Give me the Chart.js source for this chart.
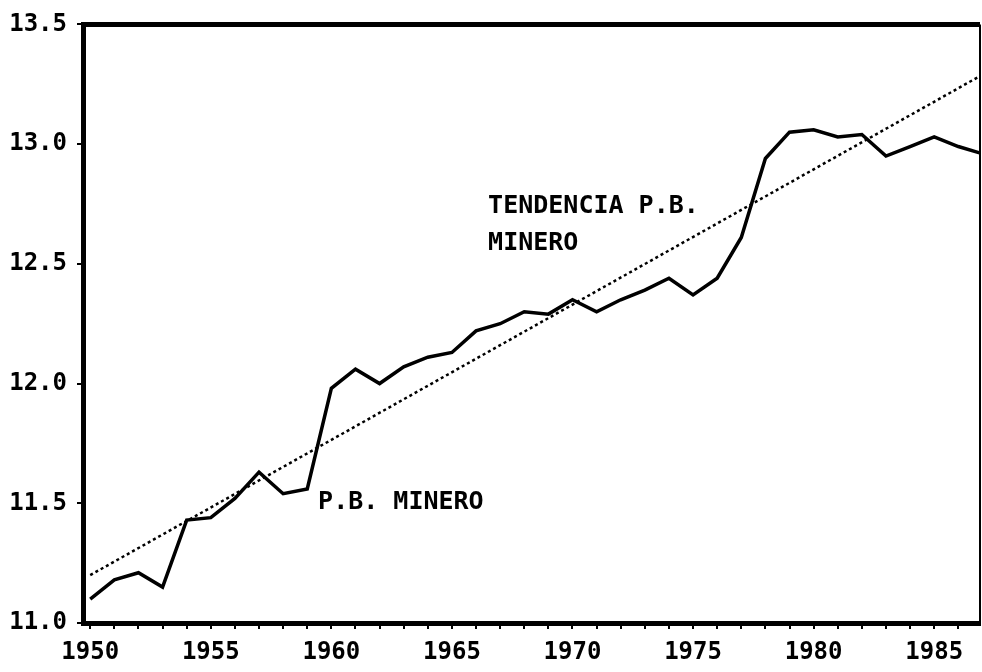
<!DOCTYPE html>
<html>
<head>
<meta charset="utf-8">
<script src="https://cdn.jsdelivr.net/npm/chart.js@4.4.1/dist/chart.umd.min.js"></script>
<style>
  html, body { margin: 0; padding: 0; background: #fff; }
  #wrap { width: 982px; height: 672px; }
</style>
</head>
<body>
<div id="wrap"><canvas id="pbChart" width="982" height="672"></canvas></div>
<script>
// ---------- Data ----------
const years = [1950, 1951, 1952, 1953, 1954, 1955, 1956, 1957, 1958, 1959,
               1960, 1961, 1962, 1963, 1964, 1965, 1966, 1967, 1968, 1969,
               1970, 1971, 1972, 1973, 1974, 1975, 1976, 1977, 1978, 1979,
               1980, 1981, 1982, 1983, 1984, 1985, 1986, 1987];
const pbMinero = [11.10, 11.18, 11.21, 11.15, 11.43, 11.44, 11.52, 11.63, 11.54, 11.56,
                  11.98, 12.06, 12.00, 12.07, 12.11, 12.13, 12.22, 12.25, 12.30, 12.29,
                  12.35, 12.30, 12.35, 12.39, 12.44, 12.37, 12.44, 12.61, 12.94, 13.05,
                  13.06, 13.03, 13.04, 12.95, 12.99, 13.03, 12.99, 12.96];
const trendYears = [1950, 1987];
const trendValues = [11.20, 13.29];

const yTicks = [11.0, 11.5, 12.0, 12.5, 13.0, 13.5];
const xTickYears = years.slice(0, 37);   // a tick every year inside the box
const xLabelYears = [1950, 1955, 1960, 1965, 1970, 1975, 1980, 1985];

const labelTrend = ['TENDENCIA P.B.', 'MINERO'];
const labelSeries = 'P.B. MINERO';

const FONT = '"DejaVu Sans Mono", monospace';

// ---------- Plugins ----------
// frame on top and right side of the plot box
const frameBox = {
    id: 'frameBox',
    afterDatasetsDraw(chart) {
        const { ctx, chartArea: a } = chart;
        ctx.save();
        ctx.strokeStyle = '#000';
        ctx.lineWidth = 5;
        ctx.beginPath();
        ctx.moveTo(a.left - 2, a.top);
        ctx.lineTo(a.right, a.top);
        ctx.stroke();
        ctx.lineWidth = 2;
        ctx.beginPath();
        ctx.moveTo(a.right, a.top);
        ctx.lineTo(a.right, a.bottom);
        ctx.stroke();
        ctx.restore();
    }
};

// text labels placed in data units
const textLabels = {
    id: 'textLabels',
    afterDatasetsDraw(chart) {
        const { ctx, scales: { x, y } } = chart;
        ctx.save();
        ctx.fillStyle = '#000';
        ctx.font = 'bold 25px ' + FONT;
        ctx.textBaseline = 'middle';
        ctx.textAlign = 'left';
        ctx.fillText(labelTrend[0], x.getPixelForValue(1966.5), y.getPixelForValue(12.74));
        ctx.fillText(labelTrend[1], x.getPixelForValue(1966.5), y.getPixelForValue(12.585));
        ctx.fillText(labelSeries, x.getPixelForValue(1959.45), y.getPixelForValue(11.505));
        ctx.restore();
    }
};

// ---------- Chart ----------
const ctx = document.getElementById('pbChart').getContext('2d');
new Chart(ctx, {
    type: 'line',
    data: {
        datasets: [
            {
                label: 'P.B. MINERO',
                data: years.map((yr, i) => ({ x: yr, y: pbMinero[i] })),
                borderColor: '#000',
                borderWidth: 3.5,
                pointRadius: 0,
                tension: 0,
                fill: false
            },
            {
                label: 'TENDENCIA P.B. MINERO',
                data: trendYears.map((yr, i) => ({ x: yr, y: trendValues[i] })),
                borderColor: '#000',
                borderWidth: 2.5,
                borderDash: [3, 3],
                pointRadius: 0,
                fill: false
            }
        ]
    },
    options: {
        responsive: false,
        animation: false,
        layout: { padding: { top: 20, right: 2, left: 0, bottom: 0 } },
        plugins: {
            legend: { display: false },
            tooltip: { enabled: false }
        },
        scales: {
            x: {
                type: 'linear',
                min: 1949.7,
                max: 1986.9,
                afterBuildTicks: axis => { axis.ticks = xTickYears.map(v => ({ value: v })); },
                afterFit: axis => { axis.height = 49; },
                ticks: {
                    autoSkip: false,
                    maxRotation: 0,
                    padding: 9,
                    color: '#000',
                    font: { family: FONT, size: 24, weight: 'bold' },
                    callback: v => xLabelYears.includes(v) ? String(v) : ''
                },
                grid: {
                    drawOnChartArea: false,
                    drawTicks: true,
                    tickLength: 6,
                    tickColor: '#000',
                    lineWidth: 2
                },
                border: { display: true, color: '#000', width: 5 }
            },
            y: {
                min: 11,
                max: 13.5,
                afterBuildTicks: axis => { axis.ticks = yTicks.map(v => ({ value: v })); },
                afterFit: axis => { axis.width = 83; },
                ticks: {
                    padding: 10,
                    color: '#000',
                    font: { family: FONT, size: 24, weight: 'bold' },
                    callback: v => v.toFixed(1)
                },
                grid: {
                    drawOnChartArea: false,
                    drawTicks: true,
                    tickLength: 6,
                    tickColor: '#000',
                    lineWidth: 2
                },
                border: { display: true, color: '#000', width: 5 }
            }
        }
    },
    plugins: [frameBox, textLabels]
});
</script>
</body>
</html>
